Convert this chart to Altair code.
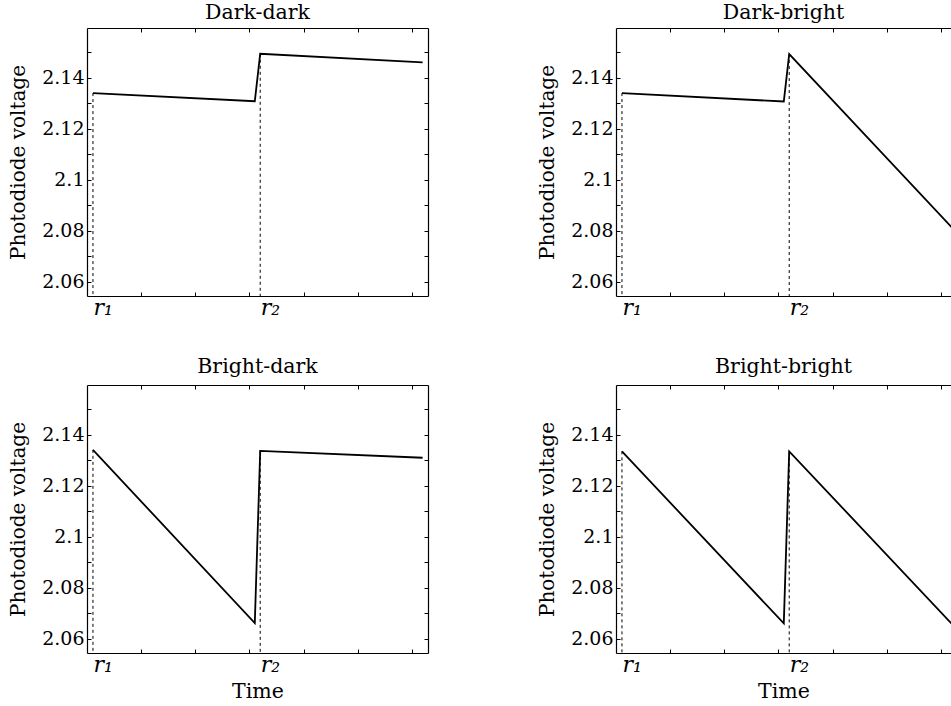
import altair as alt
import pandas as pd

# ---- data ----
panel_names = ["Dark-dark", "Dark-bright", "Bright-dark", "Bright-bright"]
time_points = [0.11, 3.1, 3.2, 6.2]
dark_dark = [2.1340, 2.1308, 2.1494, 2.1460]
dark_bright = [2.1340, 2.1307, 2.1493, 2.0815]
bright_dark = [2.1341, 2.0662, 2.1337, 2.1310]
bright_bright = [2.1335, 2.0661, 2.1335, 2.0660]
r_times = [0.11, 3.2]
r_labels = ["r\u2081", "r\u2082"]
y_ticks = [2.06, 2.07, 2.08, 2.09, 2.10, 2.11, 2.12, 2.13, 2.14, 2.15]
x_ticks = [1, 2, 3, 4, 5, 6]
y_domain = [2.0545, 2.1595]

FONT = "DejaVu Serif"
H = 268
W_LEFT = 341
W_RIGHT = 335
TICK = 4


def panel(name, values, right_col, bottom_row, title_offset):
    W = W_RIGHT if right_col else W_LEFT
    xmax = 6.3 * W / W_LEFT
    df = pd.DataFrame({"t": time_points, "v": values})
    rdf = pd.DataFrame({"t": r_times, "v": [values[0], values[2]]})
    xscale = alt.Scale(domain=[0, xmax], nice=False, zero=False)
    yscale = alt.Scale(domain=y_domain, nice=False, zero=False)
    mid = (r_times[0] + r_times[1]) / 2
    x_axis = alt.Axis(
        orient="bottom", values=r_times,
        labelExpr=f"datum.value < {mid} ? '{r_labels[0]}' : '{r_labels[1]}'",
        labelAlign="left", labelBaseline="top", labelFlush=False,
        labelFontStyle="italic", labelFontSize=22, labelPadding=1,
        ticks=False, tickSize=0, grid=False, domain=True,
        title="Time" if bottom_row else None, titlePadding=6,
    )
    y_dash = [TICK, W - 2 * TICK, TICK, 3000] if not right_col else [TICK, 3000]
    y_axis = alt.Axis(
        orient="left", values=y_ticks,
        labelExpr="(round(datum.value*100) % 2 == 0) ? format(datum.value, '~g') : ''",
        labelOverlap=False, labelFlush=False, labelFontSize=19, labelPadding=3,
        ticks=False, tickSize=0, grid=True, gridDash=y_dash,
        minExtent=45, maxExtent=45, titlePadding=13.5, titleFontSize=20,
        title="Photodiode voltage",
    )
    line = alt.Chart(df).mark_line(color="black", strokeWidth=1.8, clip=True).encode(
        x=alt.X("t:Q", scale=xscale, axis=x_axis),
        y=alt.Y("v:Q", scale=yscale, axis=y_axis),
    )
    top_axis = alt.Axis(
        orient="top", values=x_ticks, labels=False, ticks=False, tickSize=0,
        grid=True, gridDash=[TICK, H - 2 * TICK, TICK, 3000], domain=True, title=None,
        minExtent=0, maxExtent=0, labelPadding=0,
    )
    if right_col:
        right_axis = None
    else:
        right_axis = alt.Axis(orient="right", labels=False, ticks=False, tickSize=0,
                              grid=False, domain=True, title=None,
                              minExtent=0, maxExtent=0, labelPadding=0)
    rules = alt.Chart(rdf).mark_rule(color="black", strokeWidth=1, strokeDash=[3, 3]).encode(
        x=alt.X("t:Q", scale=xscale, axis=top_axis),
        y=alt.Y("v:Q", scale=yscale, axis=right_axis),
        y2=alt.value(H),
    )
    return alt.layer(line, rules).properties(
        width=W, height=H,
        title=alt.TitleParams(name, fontSize=20.5, font=FONT, fontWeight="normal",
                              offset=title_offset, color="black"),
    ).resolve_axis(x="independent", y="independent")


tl = panel(panel_names[0], dark_dark, False, False, 5)
tr = panel(panel_names[1], dark_bright, True, False, 5)
bl = panel(panel_names[2], bright_dark, False, True, 8)
br = panel(panel_names[3], bright_bright, True, True, 8)

chart = alt.vconcat(
    alt.hconcat(tl, tr, spacing=109),
    alt.hconcat(bl, br, spacing=109),
    spacing=38,
).properties(
    padding={"left": 8, "top": 2, "right": 0, "bottom": 0},
    background="white",
).configure_view(stroke=None).configure_axis(
    labelFont=FONT, titleFont=FONT, labelColor="black", titleColor="black",
    domainColor="black", domainWidth=1.2, gridColor="black", gridOpacity=1, gridWidth=1,
    titleFontSize=20.5, titleFontWeight="normal",
).configure_concat(spacing=0)

chart.save("out.html", embed_options={"renderer": "svg", "actions": False})
